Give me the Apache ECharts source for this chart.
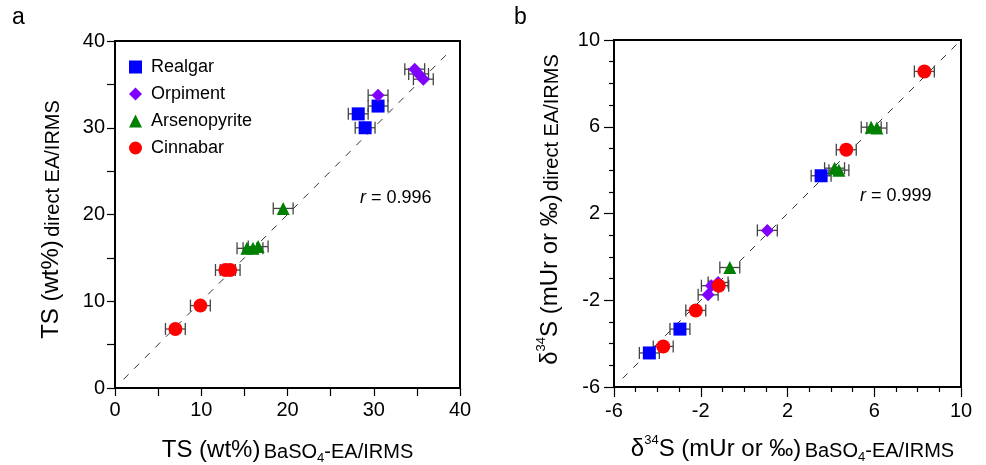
<!DOCTYPE html>
<html><head><meta charset="utf-8">
<script src="https://cdn.jsdelivr.net/npm/echarts@6/dist/echarts.min.js"></script>
<style>html,body{margin:0;padding:0;background:#fff}#c{width:986px;height:465px}</style>
</head><body><div id="c"></div>
<script>
// ---- data (panel a: TS wt%) ----
const aRealgarX = [28.2, 30.5, 29.0];
const aRealgarY = [31.6, 32.5, 30.0];
const aOrpimentX = [30.5, 34.75, 35.2, 35.75];
const aOrpimentY = [33.75, 36.75, 36.2, 35.6];
const aArsenoX = [19.5, 15.3, 16.0, 16.6];
const aArsenoY = [20.7, 16.1, 16.1, 16.3];
const aCinnabarX = [12.8, 13.35, 9.9, 7.0];
const aCinnabarY = [13.6, 13.6, 9.5, 6.8];
const aErr = 1.15;
const aOneToOne = [1, 39];
// ---- data (panel b: d34S) ----
const bRealgarX = [3.55, -2.96, -4.37];
const bRealgarY = [3.74, -3.33, -4.43];
const bOrpimentX = [1.07, -1.20, -1.51, -1.66];
const bOrpimentY = [1.22, -1.18, -1.33, -1.75];
const bArsenoX = [-0.66, 4.17, 4.37, 5.86, 6.12];
const bArsenoY = [-0.49, 4.09, 4.00, 5.98, 5.94];
const bCinnabarX = [8.31, 4.71, -1.17, -2.23, -3.73];
const bCinnabarY = [8.55, 4.94, -1.33, -2.47, -4.13];
const bErr = 0.46;
const bOneToOne = [-5.6, 9.9];
const aTicks = [0, 10, 20, 30, 40];
const bTicks = [-6, -2, 2, 6, 10];
const names = ['Realgar', 'Orpiment', 'Arsenopyrite', 'Cinnabar'];
const colors = ['#0000ff', '#7f00ff', '#008000', '#ff0000'];
const symbols = ['rect', 'diamond', 'triangle', 'circle'];

const zip = (xs, ys) => xs.map((x, i) => [x, ys[i]]);
const panelA = [zip(aRealgarX, aRealgarY), zip(aOrpimentX, aOrpimentY), zip(aArsenoX, aArsenoY), zip(aCinnabarX, aCinnabarY)];
const panelB = [zip(bRealgarX, bRealgarY), zip(bOrpimentX, bOrpimentY), zip(bArsenoX, bArsenoY), zip(bCinnabarX, bCinnabarY)];
const symSizes = [13, 13, 13, 14];

function errSeries(pts, err, idx) {
  return {
    type: 'custom', xAxisIndex: idx, yAxisIndex: idx, z: 2, silent: true,
    data: pts.map(p => [p[0] - err, p[0] + err, p[1]]),
    renderItem: function (params, api) {
      const a = api.coord([api.value(0), api.value(2)]);
      const b = api.coord([api.value(1), api.value(2)]);
      const h = 6;
      const st = { stroke: '#444', lineWidth: 1.3, fill: null };
      return { type: 'group', children: [
        { type: 'line', shape: { x1: a[0], y1: a[1], x2: b[0], y2: b[1] }, style: st },
        { type: 'line', shape: { x1: a[0], y1: a[1] - h, x2: a[0], y2: a[1] + h }, style: st },
        { type: 'line', shape: { x1: b[0], y1: b[1] - h, x2: b[0], y2: b[1] + h }, style: st }
      ]};
    }
  };
}

const series = [];
[[panelA, aErr, 0, aOneToOne], [panelB, bErr, 1, bOneToOne]].forEach(([panel, err, idx, line]) => {
  series.push({ type: 'line', xAxisIndex: idx, yAxisIndex: idx, data: [[line[0], line[0]], [line[1], line[1]]],
    symbol: 'none', silent: true, z: 1, lineStyle: { color: '#333', width: 1, type: [7, 8] } });
  panel.forEach(pts => series.push(errSeries(pts, err, idx)));
  panel.forEach((pts, k) => series.push({
    type: 'scatter', name: names[k], xAxisIndex: idx, yAxisIndex: idx, z: 5, data: pts,
    symbol: symbols[k], symbolSize: symSizes[k], itemStyle: { color: colors[k], opacity: 1 }
  }));
});

const FONT = 'Liberation Sans, Arial, Helvetica, sans-serif';
const richName = {
  a: { fontSize: 24, fontFamily: FONT, color: '#000', lineHeight: 28, verticalAlign: 'bottom' },
  b: { fontSize: 20, fontFamily: FONT, color: '#000', lineHeight: 25, verticalAlign: 'bottom' },
  sub: { fontSize: 13, fontFamily: FONT, color: '#000', lineHeight: 16, verticalAlign: 'bottom', padding: [0, 0, -3, 0] },
  sup: { fontSize: 13, fontFamily: FONT, color: '#000', lineHeight: 16, verticalAlign: 'top', padding: [1, 0, 0, 0] }
};
const axisLineStyle = { show: true, onZero: false, lineStyle: { color: '#000', width: 2 } };
const labelStyle = { fontSize: 20, fontFamily: FONT, color: '#000' };
const tickStyle = { color: '#000', width: 1.2 };

const option = {
  animation: false,
  backgroundColor: '#fff',
  grid: [
    { left: 115, right: 526, top: 41, bottom: 77, show: true, borderColor: '#000', borderWidth: 2, outerBoundsMode: 'none', containLabel: false },
    { left: 614, right: 25, top: 40, bottom: 78, show: true, borderColor: '#000', borderWidth: 2, outerBoundsMode: 'none', containLabel: false }
  ],
  xAxis: [
    { gridIndex: 0, type: 'value', min: aTicks[0], max: aTicks[aTicks.length - 1], interval: 10,
      axisLine: axisLineStyle, axisTick: { show: true, length: 8, lineStyle: tickStyle },
      minorTick: { show: true, splitNumber: 2, length: 8, lineStyle: tickStyle },
      splitLine: { show: false }, axisLabel: Object.assign({ margin: 12 }, labelStyle),
      name: '{a|TS (wt%)} {b|BaSO}{sub|4}{b|-EA/IRMS}', nameLocation: 'middle', nameGap: 46,
      nameTextStyle: { rich: richName } },
    { gridIndex: 1, type: 'value', min: bTicks[0], max: bTicks[bTicks.length - 1], interval: 4,
      axisLine: axisLineStyle, axisTick: { show: true, length: 10, lineStyle: tickStyle },
      minorTick: { show: true, splitNumber: 4, length: 5, lineStyle: tickStyle },
      splitLine: { show: false }, axisLabel: Object.assign({ margin: 14 }, labelStyle),
      name: '{a|δ}{sup|34}{a|S (mUr or ‰)} {b|BaSO}{sub|4}{b|-EA/IRMS}', nameLocation: 'middle', nameGap: 46,
      nameTextStyle: { rich: richName, padding: [0, 0, 0, 10] } }
  ],
  yAxis: [
    { gridIndex: 0, type: 'value', min: aTicks[0], max: aTicks[aTicks.length - 1], interval: 10,
      axisLine: axisLineStyle, axisTick: { show: true, length: 8, lineStyle: tickStyle },
      minorTick: { show: true, splitNumber: 2, length: 8, lineStyle: tickStyle },
      splitLine: { show: false }, axisLabel: Object.assign({ margin: 10 }, labelStyle),
      name: '{a|TS (wt%)} {b|direct EA/IRMS}', nameLocation: 'middle', nameGap: 52, nameRotate: 90,
      nameTextStyle: { rich: richName, padding: [0, 10, 0, 0] } },
    { gridIndex: 1, type: 'value', min: bTicks[0], max: bTicks[bTicks.length - 1], interval: 4,
      axisLine: axisLineStyle, axisTick: { show: true, length: 10, lineStyle: tickStyle },
      minorTick: { show: true, splitNumber: 4, length: 5, lineStyle: tickStyle },
      splitLine: { show: false }, axisLabel: Object.assign({ margin: 14 }, labelStyle),
      name: '{a|δ}{sup|34}{a|S (mUr or ‰)} {b|direct EA/IRMS}', nameLocation: 'middle', nameGap: 52, nameRotate: 90,
      nameTextStyle: { rich: richName, padding: [0, 0, 0, 8] } }
  ],
  legend: {
    orient: 'vertical', left: 124, top: 53, itemGap: 9, itemWidth: 13, itemHeight: 13,
    textStyle: { fontSize: 18, fontFamily: FONT, color: '#000', padding: [0, 0, 0, 4] },
    data: names.map((n, k) => ({ name: n, icon: symbols[k], itemStyle: { color: colors[k] } }))
  },
  graphic: [
    { type: 'text', left: 12, top: 6, style: { text: 'a', fontSize: 23, fontFamily: FONT, fill: '#000' } },
    { type: 'text', left: 514, top: 6, style: { text: 'b', fontSize: 23, fontFamily: FONT, fill: '#000' } },
    { type: 'text', left: 360, top: 189, style: { text: '{i|r} = 0.996', fontSize: 18, fontFamily: FONT, fill: '#000',
        rich: { i: { fontStyle: 'italic', fontSize: 18, fontFamily: FONT, fill: '#000' } } } },
    { type: 'text', left: 860, top: 187, style: { text: '{i|r} = 0.999', fontSize: 18, fontFamily: FONT, fill: '#000',
        rich: { i: { fontStyle: 'italic', fontSize: 18, fontFamily: FONT, fill: '#000' } } } }
  ],
  series: series
};
echarts.init(document.getElementById('c')).setOption(option);
</script></body></html>
